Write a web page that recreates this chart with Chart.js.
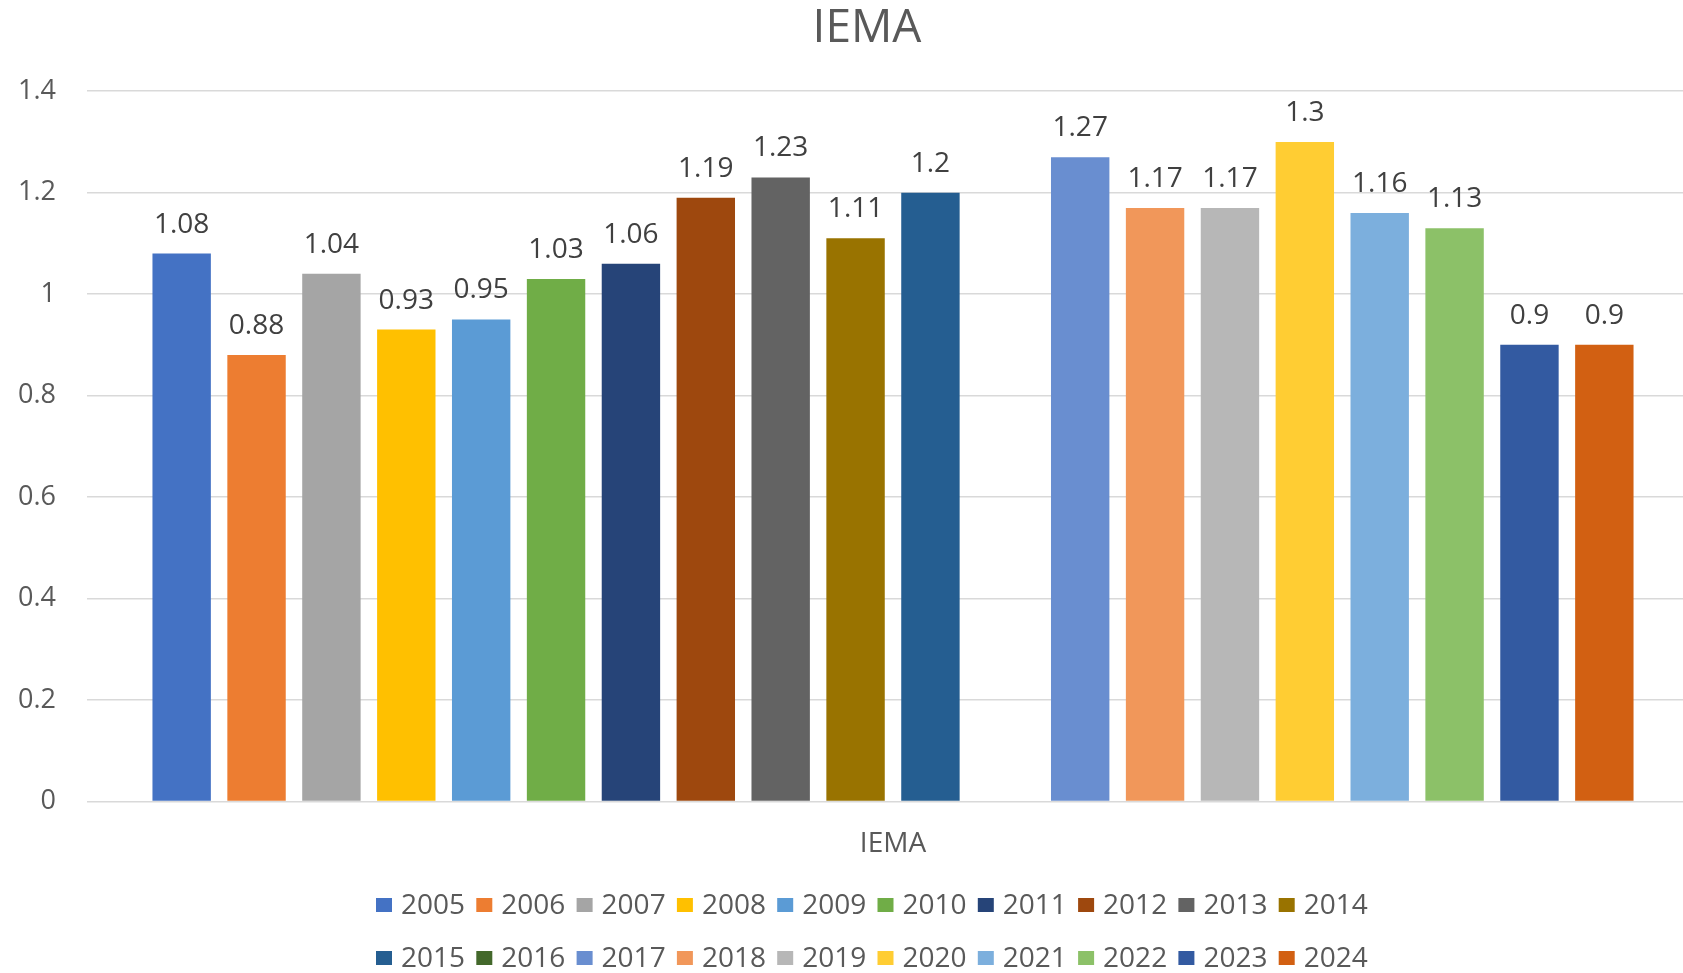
<!DOCTYPE html>
<html>
<head>
<meta charset="utf-8">
<title>IEMA</title>
<script src="https://cdn.jsdelivr.net/npm/chart.js@4.4.1/dist/chart.umd.min.js"></script>
<style>
    html, body { margin: 0; padding: 0; background: #fff; overflow: hidden; }
    #wrap { position: absolute; left: 0; top: 0; width: 1734px; height: 973px; }
</style>
</head>
<body>
<div id="wrap"><canvas id="chart"></canvas></div>
<script>
// Chart data
const categories = ['IEMA'];
const years = ['2005', '2006', '2007', '2008', '2009', '2010', '2011', '2012', '2013', '2014',
               '2015', '2016', '2017', '2018', '2019', '2020', '2021', '2022', '2023', '2024'];
const values = [1.08, 0.88, 1.04, 0.93, 0.95, 1.03, 1.06, 1.19, 1.23, 1.11,
                1.2, null, 1.27, 1.17, 1.17, 1.3, 1.16, 1.13, 0.9, 0.9];
const colors = ['#4472C4', '#ED7D31', '#A5A5A5', '#FFC000', '#5B9BD5', '#70AD47', '#264478', '#9E480E', '#636363', '#997300',
                '#255E91', '#43682B', '#698ED0', '#F1975A', '#B7B7B7', '#FFCD33', '#7CAFDD', '#8CC168', '#335AA1', '#D26012'];
const yTicks = [0, 0.2, 0.4, 0.6, 0.8, 1, 1.2, 1.4];

const FONT = '"Open Sans", "Liberation Sans", sans-serif';

// Value labels above each bar
const barLabels = {
    id: 'barLabels',
    afterDatasetsDraw(chart) {
        const ctx = chart.ctx;
        ctx.save();
        ctx.font = '28px ' + FONT;
        ctx.fillStyle = '#404040';
        ctx.textAlign = 'center';
        ctx.textBaseline = 'alphabetic';
        chart.data.datasets.forEach(function(ds, i) {
            chart.getDatasetMeta(i).data.forEach(function(bar, j) {
                const v = ds.data[j];
                if (v == null) return;
                ctx.fillText(String(v), bar.x, bar.y - 21);
            });
        });
        ctx.restore();
    }
};

// Excel-style legend: two rows of ten
const legendRows = {
    id: 'legendRows',
    afterDraw(chart) {
        const ctx = chart.ctx;
        const perRow = 10, step = 100.3, boxW = 16, boxH = 14, gap = 9;
        ctx.save();
        ctx.font = '28px ' + FONT;
        ctx.textAlign = 'left';
        ctx.textBaseline = 'middle';
        const startX = chart.width / 2 - 491;
        chart.data.datasets.forEach(function(ds, i) {
            const row = Math.floor(i / perRow);
            const x = startX + (i % perRow) * step;
            const y = chart.height - 68 + row * 53;
            ctx.fillStyle = ds.backgroundColor;
            ctx.fillRect(x, y - boxH / 2, boxW, boxH);
            ctx.fillStyle = '#595959';
            ctx.fillText(ds.label, x + boxW + gap, y + 1);
        });
        ctx.restore();
    }
};

// centre the title on the whole canvas, not on the padded area
const titleShift = {
    id: 'titleShift',
    afterLayout(chart) {
        if (chart.titleBlock) chart.titleBlock.left = chart.width - chart.titleBlock.right;
    }
};

const datasets = years.map(function(year, i) {
    return {
        label: year,
        data: [values[i]],
        backgroundColor: colors[i],
        borderWidth: 0,
        barPercentage: 0.78,
        categoryPercentage: 0.929
    };
});

new Chart(document.getElementById('chart'), {
    type: 'bar',
    data: {
        labels: categories,
        datasets: datasets
    },
    options: {
        responsive: true,
        maintainAspectRatio: false,
        animation: false,
        layout: {
            padding: { left: 0, right: 35, top: 0, bottom: 94 }
        },
        scales: {
            y: {
                min: 0,
                max: 1.4,
                afterFit: function(scale) { scale.width = 87; },
                afterBuildTicks: function(scale) {
                    scale.ticks = yTicks.map(function(v) { return { value: v }; });
                },
                ticks: {
                    padding: 31,
                    color: '#595959',
                    font: { family: FONT, size: 27 },
                    callback: function(v) { return String(Number(v.toFixed(1))); }
                },
                grid: {
                    color: '#d9d9d9',
                    lineWidth: 1.5,
                    drawTicks: false
                },
                border: { display: false }
            },
            x: {
                grid: { display: false },
                border: { display: false },
                ticks: {
                    padding: 18,
                    color: '#595959',
                    font: { family: FONT, size: 28 }
                }
            }
        },
        plugins: {
            title: {
                display: true,
                text: 'IEMA',
                color: '#595959',
                font: { family: FONT, size: 46, weight: 'normal' },
                padding: { top: 1, bottom: 35 }
            },
            legend: { display: false },
            tooltip: { enabled: false }
        }
    },
    plugins: [titleShift, barLabels, legendRows]
});
</script>
</body>
</html>
